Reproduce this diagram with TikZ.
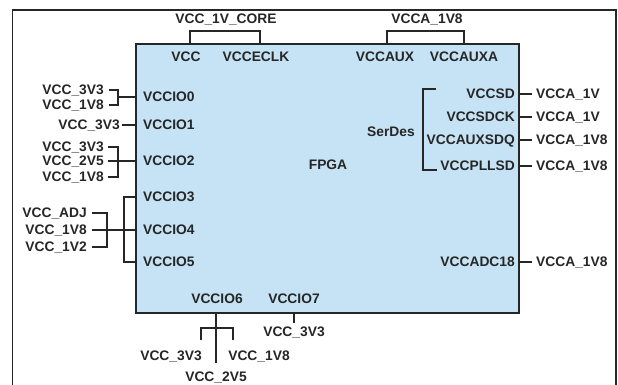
\documentclass[tikz,border=0pt]{standalone}
\usepackage{fontspec}
\setmainfont{Liberation Sans}
\definecolor{fpgablue}{HTML}{C5E3F5}
\definecolor{ink}{HTML}{262626}
\tikzset{
  lbl/.style={font=\bfseries\fontsize{13.8}{15}\selectfont, text=ink, inner sep=0pt, text height=9.8pt, text depth=0pt},
  wire/.style={draw=ink, line width=1.4pt},
  chipbox/.style={draw=ink, line width=1.8pt, fill=fpgablue, inner sep=0pt, minimum width=383pt, minimum height=269pt},
}
\begin{document}
\begin{tikzpicture}[x=1pt,y=-1pt]
\useasboundingbox (0,0) rectangle (618,384);
% outer frame
\draw[line width=1.3pt, draw=ink] (12.5,400) -- (12.5,10) -- (616,10) -- (616,400);
% FPGA box
\node[chipbox] (fpga) at (327.5,178.5) {};
\node[lbl] (fpgalbl) at (328,165) {FPGA};
% top pins
\node[lbl] (vcc) at (186,57) {VCC};
\node[lbl] (vccec) at (256,57) {VCCECLK};
\node[lbl] (vccaux) at (385,57) {VCCAUX};
\node[lbl] (vccauxa) at (464,57) {VCCAUXA};
\node[lbl] (core) at (226,19) {VCC\_1V\_CORE};
\node[lbl] (a1v8) at (427,19) {VCCA\_1V8};
\coordinate (tc1) at (190,31);
\coordinate (tc2) at (260,31);
\coordinate (tc3) at (387,31);
\coordinate (tc4) at (464,31);
\draw[wire] (fpga.north -| tc1) -- (tc1) -- (tc2) -- (fpga.north -| tc2);
\draw[wire] (fpga.north -| tc3) -- (tc3) -- (tc4) -- (fpga.north -| tc4);
% left pins
\node[lbl, anchor=west] (io0) at (143,97) {VCCIO0};
\node[lbl, anchor=west] (io1) at (143,125) {VCCIO1};
\node[lbl, anchor=west] (io2) at (143,161) {VCCIO2};
\node[lbl, anchor=west] (io3) at (143,197) {VCCIO3};
\node[lbl, anchor=west] (io4) at (143,230) {VCCIO4};
\node[lbl, anchor=west] (io5) at (143,262) {VCCIO5};
% left supplies
\node[lbl, anchor=east] (l0a) at (104,90) {VCC\_3V3};
\node[lbl, anchor=east] (l0b) at (104,105) {VCC\_1V8};
\coordinate (j0) at (118,97);
\draw[wire] ([xshift=5pt]l0a.east) -| (j0) |- ([xshift=5pt]l0b.east);
\draw[wire] (j0) -- (fpga.west |- io0);
\node[lbl, anchor=east] (l1) at (120,125) {VCC\_3V3};
\draw[wire] ([xshift=2pt]l1.east) -- (fpga.west |- io1);
\node[lbl, anchor=east] (l2a) at (104,147) {VCC\_3V3};
\node[lbl, anchor=east] (l2b) at (104,161) {VCC\_2V5};
\node[lbl, anchor=east] (l2c) at (104,177) {VCC\_1V8};
\coordinate (j2) at (118,161);
\draw[wire] ([xshift=4pt]l2a.east) -| (j2) |- ([xshift=4pt]l2c.east);
\draw[wire] ([xshift=4pt]l2b.east) -- (fpga.west |- io2);
\node[lbl, anchor=east] (l4a) at (87,213) {VCC\_ADJ};
\node[lbl, anchor=east] (l4b) at (87,230) {VCC\_1V8};
\node[lbl, anchor=east] (l4c) at (87,247) {VCC\_1V2};
\coordinate (j4) at (107,230);
\draw[wire] ([xshift=5pt]l4a.east) -| (j4) |- ([xshift=5pt]l4c.east);
\draw[wire] ([xshift=5pt]l4b.east) -- (fpga.west |- io4);
\coordinate (k3) at (124,197);
\coordinate (k5) at (124,262);
\draw[wire] (fpga.west |- io3) -- (k3) -- (k5) -- (fpga.west |- io5);
% right pins
\node[lbl, anchor=east] (sd) at (515,94) {VCCSD};
\node[lbl, anchor=east] (sdck) at (515,117) {VCCSDCK};
\node[lbl, anchor=east] (auxsdq) at (515,140) {VCCAUXSDQ};
\node[lbl, anchor=east] (pllsd) at (515,166) {VCCPLLSD};
\node[lbl, anchor=east] (adc) at (515,262) {VCCADC18};
\node[lbl, anchor=west] (r1) at (536,94) {VCCA\_1V};
\node[lbl, anchor=west] (r2) at (536,117) {VCCA\_1V};
\node[lbl, anchor=west] (r3) at (536,140) {VCCA\_1V8};
\node[lbl, anchor=west] (r4) at (536,166) {VCCA\_1V8};
\node[lbl, anchor=west] (r5) at (536,262) {VCCA\_1V8};
\foreach \r in {r1,r2,r3,r4,r5}{
  \draw[wire] (fpga.east |- \r) -- ([xshift=-4pt]\r.west);
}
\node[lbl] (serdes) at (391,132) {SerDes};
\coordinate (s1) at (423,89);
\coordinate (s2) at (423,170);
\draw[wire] ([xshift=13pt]s1) -- (s1) -- (s2) -- ([xshift=14pt]s2);
% bottom pins
\node[lbl] (io6) at (217,299) {VCCIO6};
\node[lbl] (io7) at (294,299) {VCCIO7};
\node[lbl] (b3v3) at (171,356) {VCC\_3V3};
\node[lbl] (b1v8) at (259,356) {VCC\_1V8};
\node[lbl] (b2v5) at (216,377) {VCC\_2V5};
\node[lbl] (b7) at (294,332) {VCC\_3V3};
\coordinate (bl) at (201,328);
\coordinate (br) at (233,328);
\draw[wire] (fpga.south -| b2v5) -- ([yshift=9pt]b2v5.north);
\draw[wire] ([yshift=-12pt]bl) -- (bl) -- (br) -- ([yshift=-12pt]br);
\draw[wire] (fpga.south -| b7) -- ([yshift=4pt]b7.north);
\end{tikzpicture}
\end{document}
